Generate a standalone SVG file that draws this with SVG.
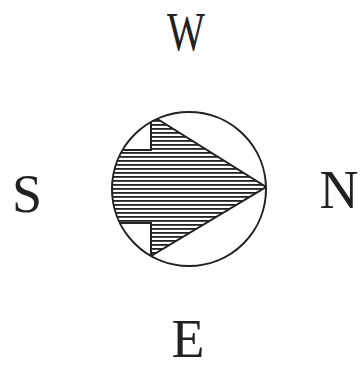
<svg xmlns="http://www.w3.org/2000/svg" width="362" height="370" viewBox="0 0 362 370">
<defs>
<style>
.lbl{font-family:"Liberation Serif","Times New Roman",serif;font-size:54px;fill:#222;text-anchor:middle}
.ol{fill:none;stroke:#222;stroke-width:2}
</style>
<pattern id="hatch" patternUnits="userSpaceOnUse" width="8" height="4" y="0">
<rect width="8" height="4" fill="#fff"/>
<rect y="0" width="8" height="1.8" fill="#222"/>
</pattern>
<clipPath id="cc"><circle cx="189" cy="189" r="77"/></clipPath>
</defs>
<rect width="362" height="370" fill="#fff"/>
<g id="compass">
<path d="M266,187 L151,115 L151,150 L100,150 L100,223 L151,223 L151,256 Z" fill="url(#hatch)" stroke="#222" stroke-width="2" clip-path="url(#cc)"/>
<circle class="ol" cx="189" cy="189" r="77"/>
</g>
<g id="label-W"><text class="lbl" x="186" y="50" textLength="38" lengthAdjust="spacingAndGlyphs">W</text></g>
<g id="label-S"><text class="lbl" x="27" y="212">S</text></g>
<g id="label-N"><text class="lbl" x="339" y="208">N</text></g>
<g id="label-E"><text class="lbl" x="188" y="357">E</text></g>
</svg>
